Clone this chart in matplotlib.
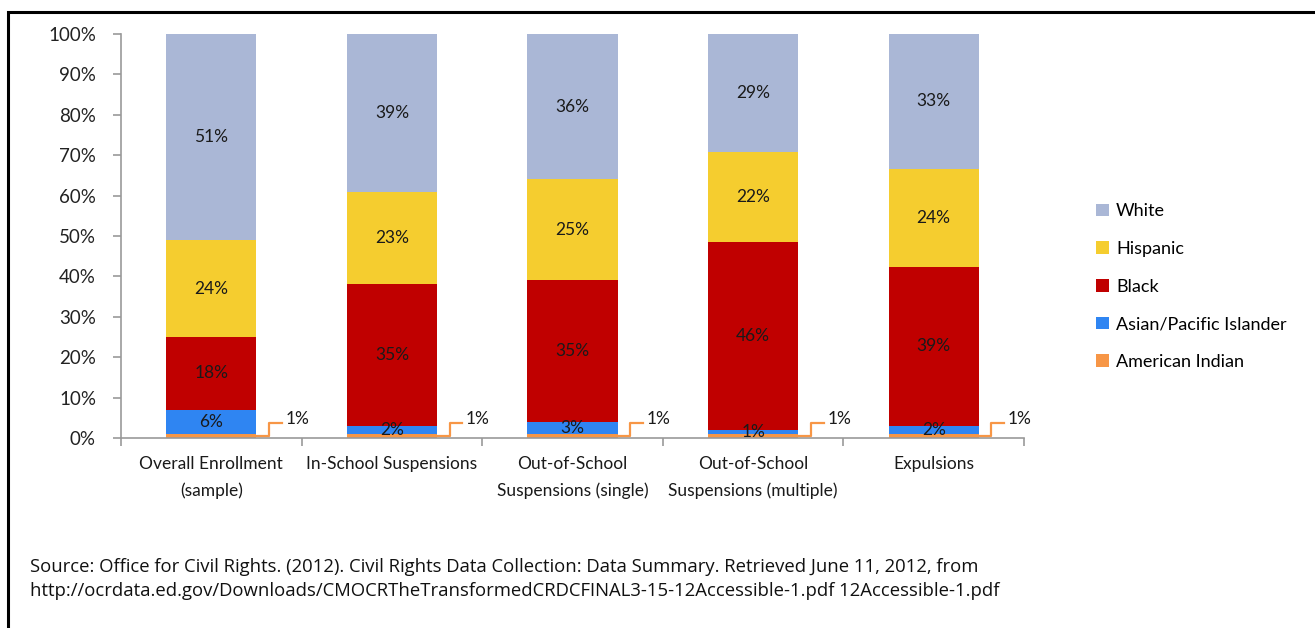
import matplotlib.pyplot as plt
import numpy as np
from matplotlib.patches import Rectangle

categories = ['Overall Enrollment\n(sample)', 'In-School Suspensions',
              'Out-of-School\nSuspensions (single)', 'Out-of-School\nSuspensions (multiple)',
              'Expulsions']
american_indian = [1, 1, 1, 1, 1]
asian = [6, 2, 3, 1, 2]
black = [18, 35, 35, 46, 39]
hispanic = [24, 23, 25, 22, 24]
white = [51, 39, 36, 29, 33]
y_ticks = [0, 10, 20, 30, 40, 50, 60, 70, 80, 90, 100]
source = ('Source: Office for Civil Rights. (2012). Civil Rights Data Collection: Data Summary. '
          'Retrieved June 11, 2012, from\n'
          'http://ocrdata.ed.gov/Downloads/CMOCRTheTransformedCRDCFINAL3-15-12Accessible-1.pdf '
          '12Accessible-1.pdf')

plt.rcParams['font.family'] = ['Lato', 'DejaVu Sans']

series = [
    ('American Indian', american_indian, '#F79646'),
    ('Asian/Pacific Islander', asian, '#2F85F2'),
    ('Black', black, '#C00000'),
    ('Hispanic', hispanic, '#F5CD2F'),
    ('White', white, '#AAB7D6'),
]

fig = plt.figure(figsize=(13.15, 6.28), dpi=100)
ax = fig.add_axes([121 / 1315, 1 - 438 / 628, 903 / 1315, 404 / 628])

x = np.arange(len(categories))
totals = np.sum([s[1] for s in series], axis=0)
bottom = np.zeros(len(categories))
bars = []
for name, vals, color in series:
    h = np.array(vals) / totals * 100
    b = ax.bar(x, h, 0.5, bottom=bottom, color=color, label=name, zorder=2)
    bars.append(b)
    if name != 'American Indian':
        for i in range(len(x)):
            ax.text(x[i], bottom[i] + h[i] / 2, f'{vals[i]}%', ha='center', va='center',
                    fontsize=12.5, color='#1a1a1a', zorder=3)
    bottom += h

# callouts for the thin American Indian slice
for i in range(len(x)):
    xs = [x[i] + 0.25, x[i] + 0.32, x[i] + 0.32, x[i] + 0.39]
    ys = [0.4, 0.4, 3.6, 3.6]
    ax.plot(xs, ys, color='#F79646', lw=1.6, zorder=3, clip_on=False)
    ax.text(x[i] + 0.41, 4.6, f'{american_indian[i]}%', ha='left', va='center',
            fontsize=12.5, color='#1a1a1a')

ax.set_xlim(-0.5, len(categories) - 0.5)
ax.set_ylim(0, 100)
ax.set_yticks(y_ticks)
ax.set_yticklabels([f'{t}%' for t in y_ticks], fontsize=13.5, color='#222222')
ax.set_xticks(x)
ax.set_xticklabels(categories, fontsize=12.5, color='#1a1a1a', linespacing=1.75)
ax.set_xticks(np.arange(len(categories) + 1) - 0.5, minor=True)
ax.tick_params(axis='x', which='major', length=0, pad=13)
ax.tick_params(axis='x', which='minor', length=6, color='#999999', width=1.2)
ax.tick_params(axis='y', length=6, color='#999999', width=1.2, pad=12)
for s in ['top', 'right']:
    ax.spines[s].set_visible(False)
for s in ['left', 'bottom']:
    ax.spines[s].set_color('#999999')
    ax.spines[s].set_linewidth(1.2)

handles = bars[::-1]
labels = [s[0] for s in series][::-1]
fig.legend(handles, labels, loc='upper left', bbox_to_anchor=(1080 / 1315, 1 - 187 / 628),
           frameon=False, fontsize=13, handlelength=0.7, handleheight=0.7,
           handletextpad=0.4, labelspacing=1.2)

fig.text(30 / 1315, 1 - 579 / 628, source, fontsize=13.3, family=['Open Sans', 'DejaVu Sans'],
         ha='left', va='center', linespacing=1.5, color='#111111')

fig.patches.append(Rectangle((8 / 1315, -0.1), 1.2, 1 - 12 / 628 + 0.1, transform=fig.transFigure,
                             fill=False, edgecolor='black', lw=2.2))

fig.savefig('out.png', dpi=100)
